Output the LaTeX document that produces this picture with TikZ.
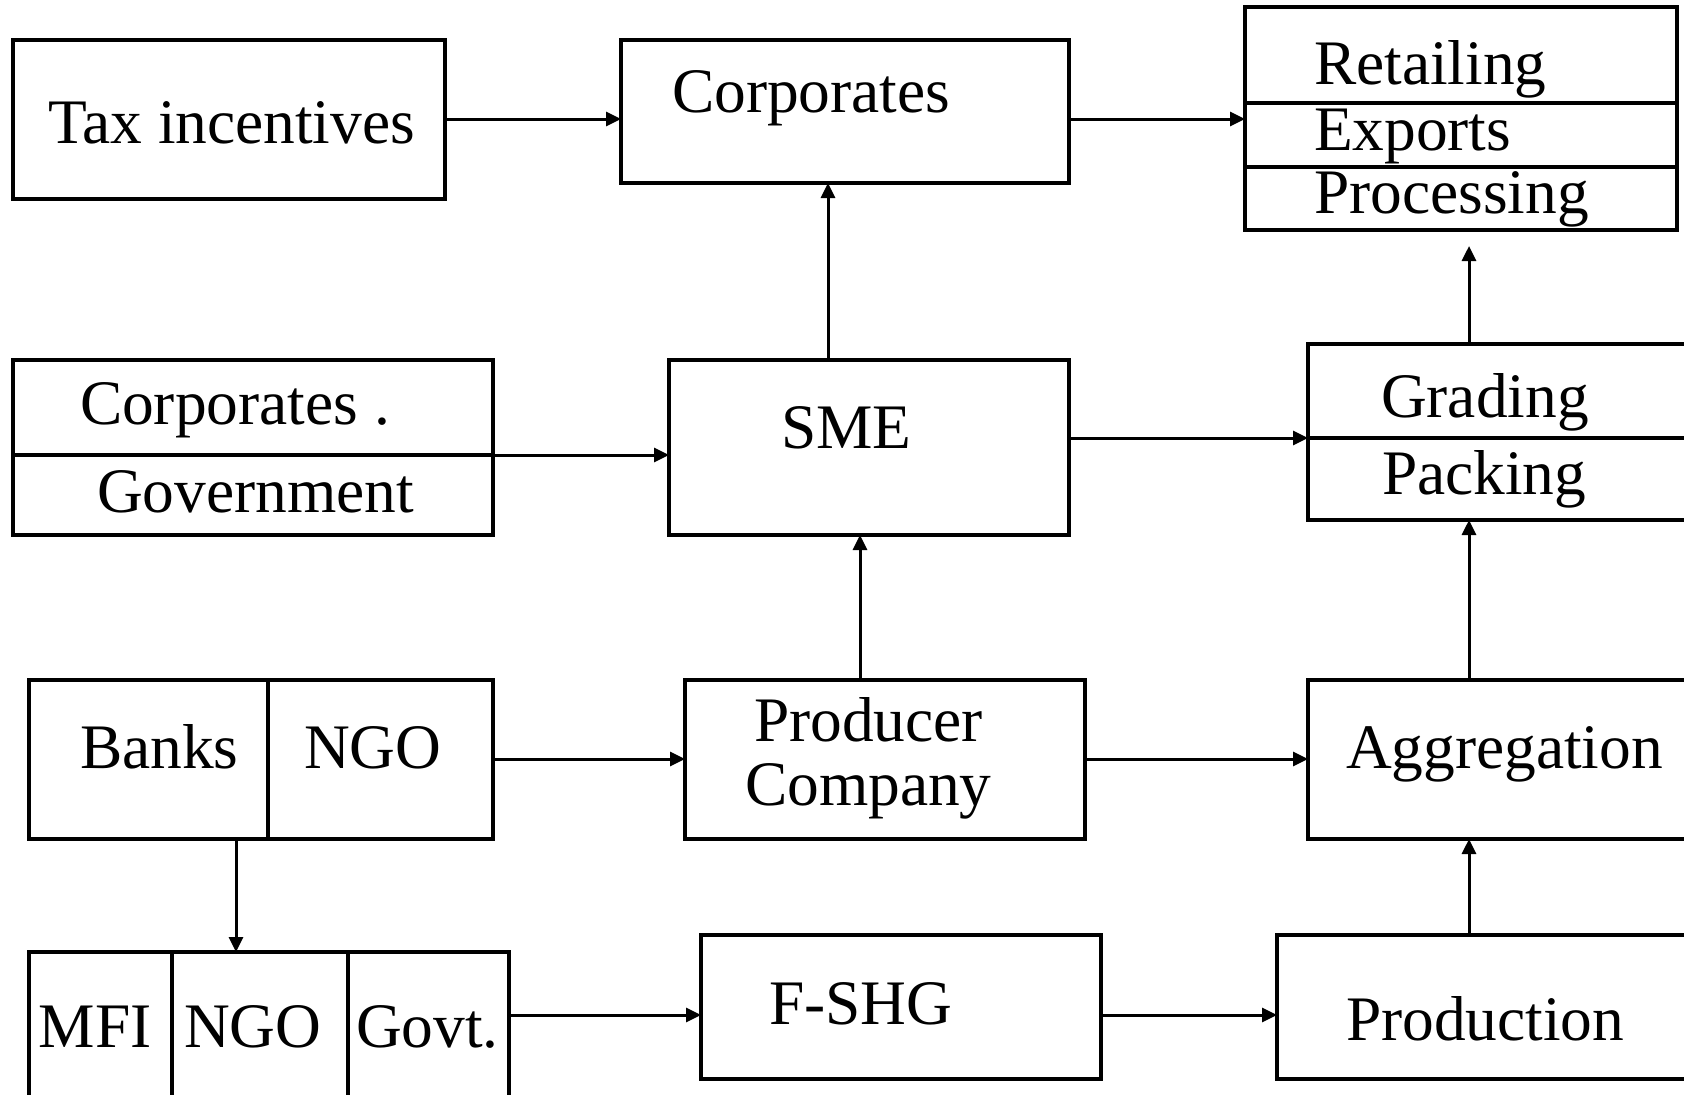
\documentclass[tikz,border=0pt]{standalone}
\usepackage{fontspec}
\setmainfont{Liberation Serif}
\usetikzlibrary{arrows.meta}
\begin{document}
\begin{tikzpicture}[x=0.5pt,y=-0.5pt,
  box/.style={draw, line width=1.6pt, inner sep=0pt, outer sep=0pt},
  lbl/.style={anchor=base west, inner sep=0pt, outer sep=0pt, font=\fontsize{31.7}{38}\selectfont},
  arr/.style={line width=1.5pt, -{Triangle[length=7.5pt,width=7pt]}},
  rule/.style={line width=1.6pt}]
\useasboundingbox (0,0) rectangle (1684,1094);
\clip (0,0) rectangle (1684,1094);

% ---- boxes (sizes in pt: half the drawing units) ----
\node[box, minimum width=216pt, minimum height=79.5pt] (tax)     at (229,119.5) {};
\node[box, minimum width=224pt, minimum height=71.5pt] (corp)    at (845,111.5) {};
\node[box, minimum width=216pt, minimum height=111.5pt] (retail) at (1461,118.5) {};
\node[box, minimum width=240pt, minimum height=87.5pt] (corpgov) at (253,447.5) {};
\node[box, minimum width=200pt, minimum height=87.5pt] (sme)     at (869,447.5) {};
\node[box, minimum width=206pt, minimum height=88pt] (grading)   at (1514,432) {};
\node[box, minimum width=232pt, minimum height=79.5pt] (banks)   at (261,759.5) {};
\node[box, minimum width=200pt, minimum height=79.5pt] (prodco)  at (885,759.5) {};
\node[box, minimum width=206pt, minimum height=79.5pt] (aggr)    at (1514,759.5) {};
\node[box, minimum width=240pt, minimum height=84pt] (mfi)       at (269,1036) {};
\node[box, minimum width=200pt, minimum height=72pt] (fshg)      at (901,1007) {};
\node[box, minimum width=221.5pt, minimum height=72pt] (prod)    at (1498.5,1007) {};

% ---- compartment rules ----
\draw[rule] (1245,103) -- (1677,103);
\draw[rule] (1245,167) -- (1677,167);
\draw[rule] (13,455) -- (493,455);
\draw[rule] (1308,438) -- (1720,438);
\draw[rule] (268,680) -- (268,839);
\draw[rule] (172,952) -- (172,1120);
\draw[rule] (348,952) -- (348,1120);

% ---- texts ----
\node[lbl] (tTax)   at (48,143)    {Tax incentives};
\node[lbl] (tCorp)  at (672,112)   {Corporates};
\node[lbl] (tRet)   at (1314,84)   {Retailing};
\node[lbl] (tExp)   at (1314,150)  {Exports};
\node[lbl] (tProc)  at (1314,213)  {Processing};
\node[lbl] (tCorp2) at (80,424)    {Corporates .};
\node[lbl] (tGov)   at (97,512)    {Government};
\node[lbl] (tSME)   at (781,448)   {SME};
\node[lbl] (tGrad)  at (1381,417)  {Grading};
\node[lbl] (tPack)  at (1382,494)  {Packing};
\node[lbl] (tBanks) at (80,768)    {Banks};
\node[lbl] (tNGO)   at (304,768)   {NGO};
\node[lbl] (tProd1) at (754,741)   {Producer};
\node[lbl] (tProd2) at (745,805)   {Company};
\node[lbl] (tAggr)  at (1346,768)  {Aggregation};
\node[lbl] (tMFI)   at (39,1047)   {MFI};
\node[lbl] (tNGO2)  at (184,1047)  {NGO};
\node[lbl] (tGovt)  at (356,1047)  {Govt.};
\node[lbl] (tFSHG)  at (769,1024)  {F-SHG};
\node[lbl] (tProdn) at (1346,1040) {Production};

% ---- connector guides ----
\coordinate (yA) at (0,119);
\coordinate (yB) at (0,455);
\coordinate (yC) at (0,438);
\coordinate (yD) at (0,759);
\coordinate (yE) at (0,1015);
\coordinate (xA) at (828,0);
\coordinate (xB) at (860,0);
\coordinate (xC) at (1469,0);
\coordinate (xD) at (236,0);

% ---- connectors ----
\draw[arr] (tax.east |- yA) -- (corp.west |- yA);
\draw[arr] (corp.east |- yA) -- (retail.west |- yA);
\draw[arr] (corpgov.east |- yB) -- (sme.west |- yB);
\draw[arr] (sme.east |- yC) -- (grading.west |- yC);
\draw[arr] (banks.east |- yD) -- (prodco.west |- yD);
\draw[arr] (prodco.east |- yD) -- (aggr.west |- yD);
\draw[arr] (mfi.east |- yE) -- (fshg.west |- yE);
\draw[arr] (fshg.east |- yE) -- (prod.west |- yE);
\draw[arr] (xA |- sme.north) -- (xA |- corp.south);
\draw[arr] (xB |- prodco.north) -- (xB |- sme.south);
\draw[arr] (xC |- prod.north) -- (xC |- aggr.south);
\draw[arr] (xC |- aggr.north) -- (xC |- grading.south);
\draw[arr, shorten >=8pt] (xC |- grading.north) -- (xC |- retail.south);
\draw[arr] (xD |- banks.south) -- (xD |- mfi.north);
\end{tikzpicture}
\end{document}
